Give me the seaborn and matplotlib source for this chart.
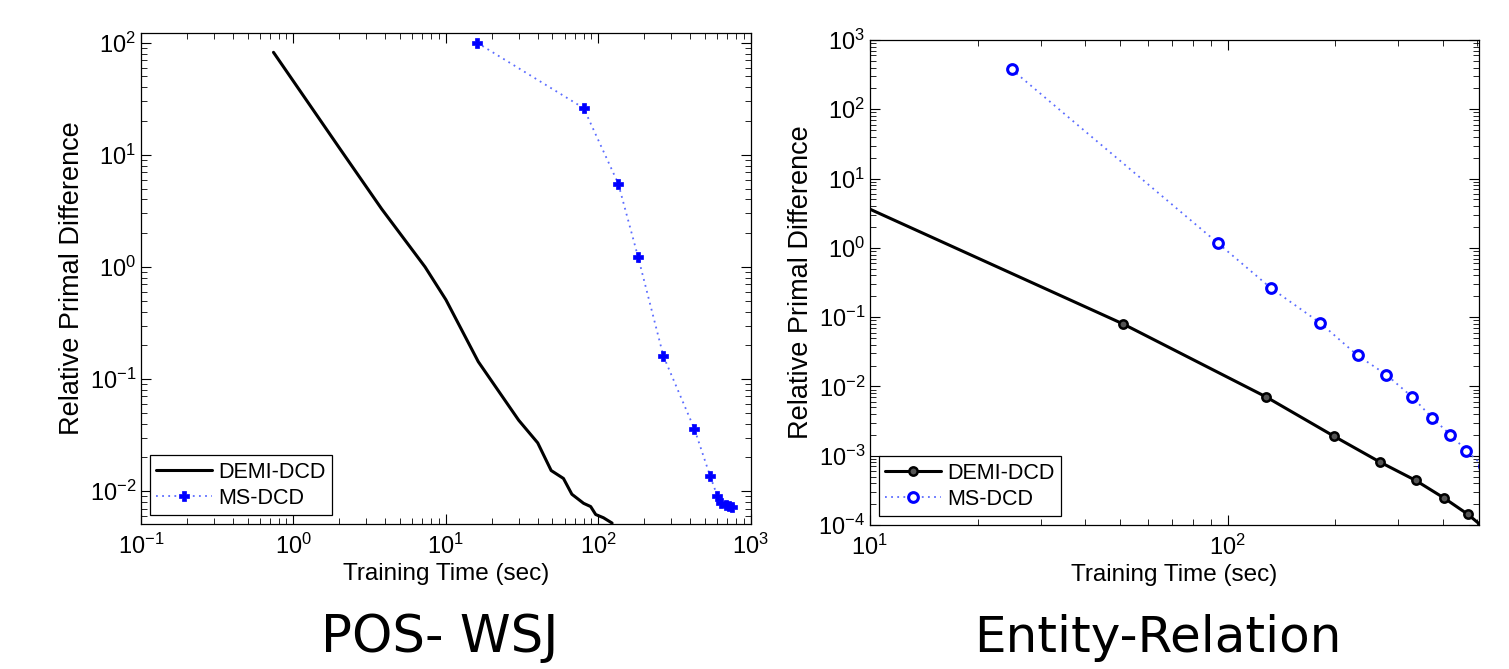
# Convergence plots: relative primal difference vs training time
import numpy as np
import pandas as pd
import matplotlib.pyplot as plt
import seaborn as sns
from matplotlib.ticker import NullFormatter

sns.set_style("ticks")
plt.rcParams['font.family'] = ['Liberation Sans', 'DejaVu Sans']
plt.rcParams['mathtext.fontset'] = 'custom'
plt.rcParams['mathtext.rm'] = 'Liberation Sans'
plt.rcParams['mathtext.it'] = 'Liberation Sans:italic'
plt.rcParams['mathtext.bf'] = 'Liberation Sans:bold'
plt.rcParams['text.color'] = 'black'
plt.rcParams['axes.labelcolor'] = 'black'
plt.rcParams['xtick.color'] = 'black'
plt.rcParams['ytick.color'] = 'black'

# POS-WSJ
pos_demi_time = [0.74, 2.02, 3.79, 7.3, 10, 16.3, 30, 40, 49, 59, 67, 80, 89, 96, 108, 123]
pos_demi_diff = [82, 11.3, 3.29, 1.0, 0.51, 0.143, 0.043, 0.027, 0.0153, 0.013, 0.0094,
                 0.0078, 0.0073, 0.0062, 0.0058, 0.0052]
pos_ms_time = [16.0, 80, 135, 182, 267, 426, 539, 602, 637, 682, 716, 752]
pos_ms_diff = [100, 26.1, 5.53, 1.23, 0.160, 0.036, 0.0138, 0.0091, 0.0078, 0.0075, 0.0074, 0.0073]

# Entity-Relation
er_demi_time = [8, 51, 128, 199, 267, 336, 404, 470, 530]
er_demi_diff = [6.1, 0.080, 0.0071, 0.0019, 0.00081, 0.00044, 0.000244, 0.000143, 0.000085]
er_ms_time = [24.9, 94.2, 132, 182, 231, 278, 329, 373, 420, 466, 520]
er_ms_diff = [377, 1.16, 0.265, 0.082, 0.0281, 0.0148, 0.0070, 0.00355, 0.00201, 0.00119, 0.0007]

fig = plt.figure(figsize=(15.09, 6.69), dpi=100)
ax1 = fig.add_axes([0.0934, 0.2167, 0.4042, 0.734])
ax2 = fig.add_axes([0.5765, 0.2152, 0.4036, 0.725])

dots = (0, (1, 2.4))
dot_blue = '#5b6cff'

# left panel
sns.lineplot(x=pos_demi_time, y=pos_demi_diff, ax=ax1, color='black', lw=2.2,
             label='DEMI-DCD', sort=False, estimator=None)
sns.lineplot(x=pos_ms_time, y=pos_ms_diff, ax=ax1, color=dot_blue, lw=1.3, linestyle=dots,
             marker='P', markersize=6.5, mec='blue', mfc='blue', mew=0.5, label='MS-DCD',
             sort=False, estimator=None)

# right panel
sns.lineplot(x=er_demi_time, y=er_demi_diff, ax=ax2, color='black', lw=2.2,
             marker='o', markersize=6, mec='black', mfc='#555555', mew=1.8,
             label='DEMI-DCD', sort=False, estimator=None)
sns.lineplot(x=er_ms_time, y=er_ms_diff, ax=ax2, color=dot_blue, lw=1.3, linestyle=dots,
             marker='o', markersize=7, mec='blue', mfc='white', mew=2.2,
             label='MS-DCD', sort=False, estimator=None)

for ax in (ax1, ax2):
    ax.set_xscale('log')
    ax.set_yscale('log')
    ax.tick_params(which='both', direction='in', top=True, right=True, labelsize=17)
    ax.tick_params(which='major', length=7, width=0.8)
    ax.tick_params(which='minor', length=4, width=0.6)
    ax.tick_params(axis='x', pad=7)
    ax.xaxis.set_minor_formatter(NullFormatter())
    ax.yaxis.set_minor_formatter(NullFormatter())
    for s in ax.spines.values():
        s.set_linewidth(0.9)
        s.set_color('black')
    ax.set_xlabel('Training Time (sec)', fontsize=17.5, labelpad=3)
    ax.set_ylabel('Relative Primal Difference', fontsize=19.5, labelpad=3)
    leg = ax.legend(loc='lower left', fontsize=15.5, frameon=True, fancybox=False,
                    edgecolor='black', framealpha=1, handlelength=2.6,
                    borderaxespad=0.4, borderpad=0.3, labelspacing=0.25,
                    handletextpad=0.3)
    leg.get_frame().set_linewidth(0.9)

ax1.set_xlim(0.1, 1000)
ax1.set_ylim(0.0051, 122)
ax2.set_xlim(10, 505)
ax2.set_ylim(1e-4, 1e3)

fig.text(0.2916, 0.025, 'POS- WSJ', ha='center', va='baseline', fontsize=37,
         family=['DejaVu Sans'])
fig.text(0.7674, 0.025, 'Entity-Relation', ha='center', va='baseline', fontsize=36,
         family=['DejaVu Sans'])

fig.savefig('out.png', dpi=100)
